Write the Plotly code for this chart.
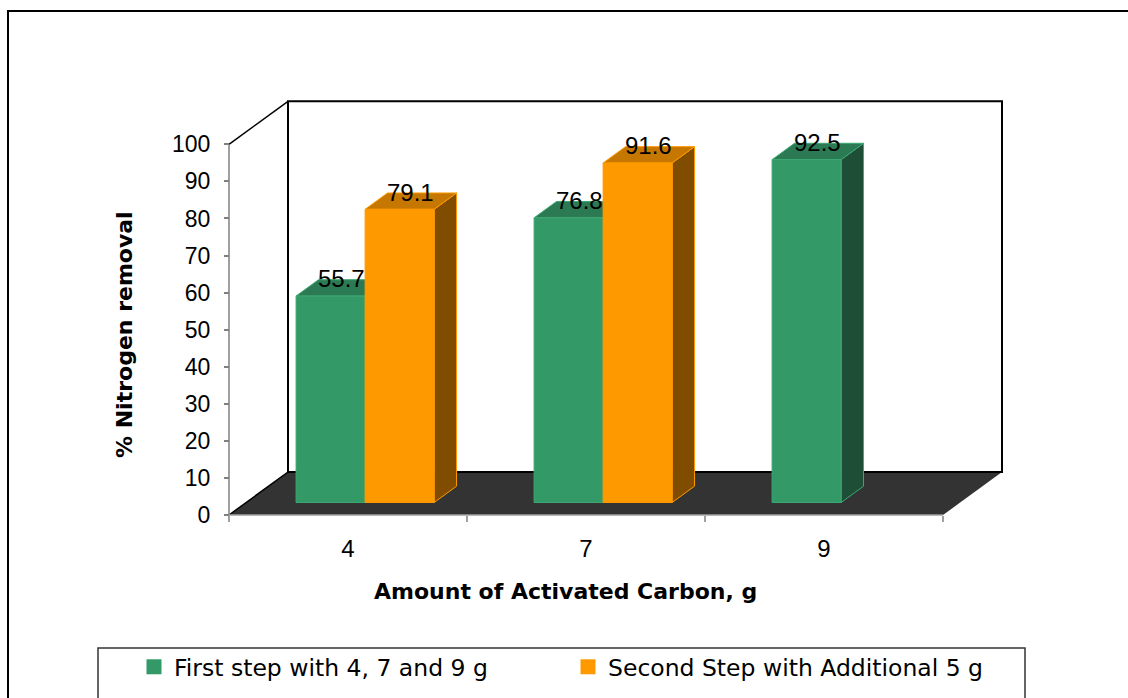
import plotly.graph_objects as go

# ---- data -------------------------------------------------------------
categories = ["4", "7", "9"]
first_step = [55.7, 76.8, 92.5]
second_step = [79.1, 91.6, None]
series_names = ["First step with 4, 7 and 9 g", "Second Step with Additional 5 g"]
y_ticks = list(range(0, 101, 10))

# ---- styling ------------------------------------------------------------
NUM_FONT = "Liberation Sans, Arial, sans-serif"
TEXT_FONT = "DejaVu Sans"
SERIES_STYLE = [
    dict(front="#339966", top="#2b7a53", side="#1e4e35", edge="#3ca872"),
    dict(front="#ff9900", top="#c57700", side="#804c00", edge="#ff9900"),
]

# ---- geometry of the oblique 3-D frame ----------------------------------
W, H = 1128, 698
X0_PX, Y0_PX = 229, 515          # screen point of first category edge at value 0
CAT_PX = 238                     # pixels per category on the front plane
VAL_PX = 3.707                   # pixels per percentage point
DEPTH_X_PX, DEPTH_Y_PX = 59, 43  # oblique offset from front plane to back wall

# ranges chosen so the plot area covers the whole figure
x_lo = -0.5 - X0_PX / CAT_PX
x_hi = x_lo + W / CAT_PX
y_lo = -(H - Y0_PX) / VAL_PX
y_hi = Y0_PX / VAL_PX

DX = DEPTH_X_PX / CAT_PX
DY = DEPTH_Y_PX / VAL_PX
D_FRONT, D_BACK = 0.29, 0.67     # depth of bar front / back faces (0 = front, 1 = back wall)
BAR_W = 0.29                     # bar width in category units
N = len(categories)
Y_MAX = y_ticks[-1]


def proj(x, v, d):
    """Project a point (category x, value v, depth d) onto the 2-D axes."""
    return x + d * DX, v + d * DY


def px(xp):
    return xp / W


def py(yp):
    return 1 - yp / H


def bar_faces(i, slot, v):
    x0 = i - BAR_W + slot * BAR_W
    x1 = x0 + BAR_W
    front = [proj(x0, 0, D_FRONT), proj(x1, 0, D_FRONT), proj(x1, v, D_FRONT), proj(x0, v, D_FRONT)]
    side = [proj(x1, 0, D_FRONT), proj(x1, 0, D_BACK), proj(x1, v, D_BACK), proj(x1, v, D_FRONT)]
    top = [proj(x0, v, D_FRONT), proj(x1, v, D_FRONT), proj(x1, v, D_BACK), proj(x0, v, D_BACK)]
    return dict(front=front, side=side, top=top), (x0 + x1) / 2


def path(points):
    return "M " + " L ".join(f"{x},{y}" for x, y in points) + " Z"


fig = go.Figure()
annotations = []

for slot, (values, name, style) in enumerate(zip([first_step, second_step], series_names, SERIES_STYLE)):
    polys = {"side": ([], []), "top": ([], []), "front": ([], [])}
    for i, v in enumerate(values):
        if v is None:
            continue
        faces, xc = bar_faces(i, slot, v)
        for key, pts in faces.items():
            xs, ys = polys[key]
            closed = pts + [pts[0]]
            xs.extend([p[0] for p in closed] + [None])
            ys.extend([p[1] for p in closed] + [None])
        lx, ly = proj(xc, v, (D_FRONT + D_BACK) / 2)
        annotations.append(dict(
            x=lx, y=ly, xref="x", yref="y", text=f"{v:.1f}", showarrow=False,
            xanchor="center", yanchor="middle", yshift=9,
            font=dict(family=NUM_FONT, size=24, color="black"),
        ))
    for key in ("side", "top", "front"):
        xs, ys = polys[key]
        fig.add_trace(go.Scatter(
            x=xs, y=ys, mode="lines", fill="toself", fillcolor=style[key],
            line=dict(color=style["edge"], width=1), hoverinfo="skip", showlegend=False,
        ))
    # legend entry
    fig.add_trace(go.Scatter(
        x=[None], y=[None], mode="markers", name=name,
        marker=dict(symbol="square", size=15, color=style["front"]),
        legend="legend" if slot == 0 else "legend2",
    ))

# ---- walls, floor and axis lines ------------------------------------------
floor = [proj(-0.5, 0, 0), proj(N - 0.5, 0, 0), proj(N - 0.5, 0, 1), proj(-0.5, 0, 1)]
wall_bl = proj(-0.5, 0, 1)
wall_tr = proj(N - 0.5, Y_MAX, 1)
shapes = [
    dict(type="rect", xref="x", yref="y", x0=wall_bl[0], y0=wall_bl[1], x1=wall_tr[0], y1=wall_tr[1],
         fillcolor="white", line=dict(color="black", width=2), layer="below"),
    dict(type="path", xref="x", yref="y", path=path(floor), fillcolor="#333333",
         line=dict(width=0), layer="below"),
    dict(type="line", xref="x", yref="y", x0=wall_bl[0], y0=wall_bl[1], x1=N - 0.5 + DX, y1=DY,
         line=dict(color="black", width=2), layer="below"),
    dict(type="line", xref="x", yref="y", x0=-0.5, y0=0, x1=wall_bl[0], y1=wall_bl[1],
         line=dict(color="black", width=1.5), layer="below"),
    dict(type="line", xref="x", yref="y", x0=-0.5, y0=Y_MAX, x1=-0.5 + DX, y1=Y_MAX + DY,
         line=dict(color="black", width=1.5), layer="below"),
    dict(type="line", xref="x", yref="y", x0=-0.5, y0=0, x1=-0.5, y1=Y_MAX,
         line=dict(color="#808080", width=1.5), layer="below"),
    dict(type="line", xref="x", yref="y", x0=-0.5, y0=0, x1=N - 0.5, y1=0,
         line=dict(color="#a0a0a0", width=1.5), layer="below"),
    # chart frame
    dict(type="rect", xref="paper", yref="paper", x0=px(8), y0=py(H + 20), x1=px(W + 20), y1=py(11),
         line=dict(color="black", width=2), fillcolor="rgba(0,0,0,0)", layer="below"),
    # legend frame
    dict(type="rect", xref="paper", yref="paper", x0=px(98), y0=py(H + 20), x1=px(1025), y1=py(648),
         line=dict(color="#333333", width=1.5), fillcolor="rgba(0,0,0,0)", layer="below"),
]

annotations += [
    dict(x=px(124), y=py(335), xref="paper", yref="paper", text="<b>% Nitrogen removal</b>",
         xanchor="center", yanchor="middle", textangle=-90, showarrow=False,
         font=dict(family=TEXT_FONT, size=22, color="black")),
    dict(x=px(565), y=py(591), xref="paper", yref="paper", text="<b>Amount of Activated Carbon, g</b>",
         xanchor="center", yanchor="middle", showarrow=False,
         font=dict(family=TEXT_FONT, size=22, color="black")),
]

legend_common = dict(
    orientation="h", xanchor="left", yanchor="top", bgcolor="rgba(0,0,0,0)", borderwidth=0,
    font=dict(family=TEXT_FONT, size=23.5, color="black"),
)

fig.update_layout(
    width=W, height=H,
    margin=dict(l=0, r=0, t=0, b=0, autoexpand=False),
    paper_bgcolor="white", plot_bgcolor="white",
    showlegend=True,
    legend=dict(x=px(134), y=py(645), **legend_common),
    legend2=dict(x=px(568), y=py(645), **legend_common),
    xaxis=dict(
        range=[x_lo, x_hi], anchor="free", position=1 - Y0_PX / H,
        tickvals=list(range(N)), ticktext=categories, ticks="", ticklabelstandoff=17,
        tickfont=dict(family=NUM_FONT, size=24, color="black"),
        minor=dict(tickvals=[i - 0.5 for i in range(N + 1)], ticks="outside", ticklen=6,
                   tickcolor="#a0a0a0", tickwidth=1.5),
        showgrid=False, zeroline=False, showline=False, fixedrange=True,
    ),
    yaxis=dict(
        range=[y_lo, y_hi], anchor="free", position=X0_PX / W,
        tickvals=y_ticks, ticks="outside", ticklen=5, tickcolor="#808080", tickwidth=1.5,
        ticklabelstandoff=9, tickfont=dict(family=NUM_FONT, size=23, color="black"),
        showgrid=False, zeroline=False, showline=False, fixedrange=True,
    ),
    shapes=shapes,
    annotations=annotations,
)

fig.write_html("out.html")
